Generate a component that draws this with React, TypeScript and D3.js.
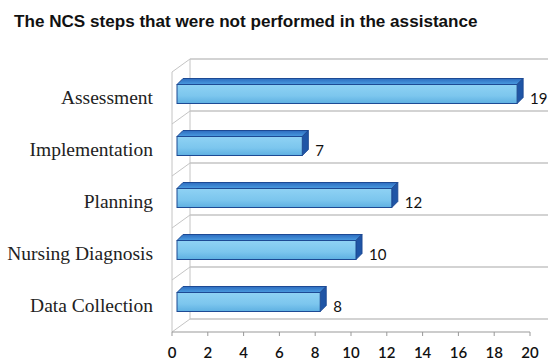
import React from "react";
import * as d3 from "d3";

const title = "The NCS steps that were not performed in the assistance";
const categories = ["Assessment", "Implementation", "Planning", "Nursing Diagnosis", "Data Collection"];
const values = [19, 7, 12, 10, 8];
const xTicks = [0, 2, 4, 6, 8, 10, 12, 14, 16, 18, 20];

const W = 550, H = 362;
const front = { left: 172, right: 530, top: 72, bottom: 332 };
const depth = { dx: 18, dy: -13 };
const barDepth = { dx: 6, dy: -6 };

export default function App() {
  const x = d3.scaleLinear().domain([0, 20]).range([front.left, front.right]);
  const y = d3.scaleBand<string>().domain(categories).range([front.top, front.bottom]);
  const bw = y.bandwidth();
  const gridYs = d3.range(categories.length + 1).map((i) => front.top + i * bw);
  const barH = 19;
  const barOff = 5;

  return (
    <svg width={W} height={H} style={{ position: "absolute", left: 0, top: 0, background: "#fff" }}>
      <defs>
        <linearGradient id="frontG" x1="0" y1="0" x2="0" y2="1">
          <stop offset="0" stopColor="#8fd2f4" />
          <stop offset="0.6" stopColor="#7cc6ee" />
          <stop offset="1" stopColor="#5eb0e2" />
        </linearGradient>
        <linearGradient id="topG" x1="0" y1="0" x2="0" y2="1">
          <stop offset="0" stopColor="#2d6cc0" />
          <stop offset="1" stopColor="#4a9ce0" />
        </linearGradient>
      </defs>
      <rect width={W} height={H} fill="#fff" />
      <text x={14} y={27} fontFamily="Liberation Sans, Arial, sans-serif" fontWeight="bold" fontSize={17.1} fill="#111">
        {title}
      </text>

      {/* back wall gridlines */}
      {gridYs.map((gy, i) => (
        <g key={"g" + i}>
          <line x1={front.left + depth.dx} x2={front.right + depth.dx} y1={gy + depth.dy} y2={gy + depth.dy} stroke="#a8a8a8" strokeWidth={1.2} />
          <line x1={front.left} y1={gy} x2={front.left + depth.dx} y2={gy + depth.dy} stroke="#c4c4c4" strokeWidth={1} />
        </g>
      ))}
      {/* left wall verticals */}
      <line x1={front.left} x2={front.left} y1={front.top} y2={front.bottom} stroke="#c4c4c4" strokeWidth={1} />
      <line x1={front.left + depth.dx} x2={front.left + depth.dx} y1={front.top + depth.dy} y2={front.bottom + depth.dy} stroke="#c4c4c4" strokeWidth={1} />

      {/* front axis */}
      <line x1={front.left} x2={front.right} y1={front.bottom} y2={front.bottom} stroke="#999" strokeWidth={1.2} />
      {xTicks.map((t) => (
        <g key={"t" + t}>
          <line x1={x(t)} x2={x(t)} y1={front.bottom} y2={front.bottom + 4} stroke="#999" />
          <text x={x(t)} y={358} textAnchor="middle" fontFamily="Lato, Open Sans, sans-serif" fontSize={15} fontWeight={600} fill="#111">
            {t}
          </text>
        </g>
      ))}

      {/* bars */}
      {categories.map((c, i) => {
        const v = values[i];
        const cy = (y(c) as number) + bw / 2 - 4;
        const y0 = cy - barH / 2;
        const x0 = x(0) + barOff;
        const x1 = x(v) + barOff;
        const { dx, dy } = barDepth;
        const topPts = [[x0, y0], [x0 + dx, y0 + dy], [x1 + dx, y0 + dy], [x1, y0]];
        const endPts = [[x1, y0], [x1 + dx, y0 + dy], [x1 + dx, y0 + barH + dy], [x1, y0 + barH]];
        const p = (pts: number[][]) => pts.map((q) => q.join(",")).join(" ");
        return (
          <g key={c}>
            <polygon points={p(topPts)} fill="url(#topG)" stroke="#1d4a94" strokeWidth={1} strokeLinejoin="round" />
            <polygon points={p(endPts)} fill="#1f55a6" stroke="#1d4a94" strokeWidth={1} strokeLinejoin="round" />
            <rect x={x0} y={y0} width={x1 - x0} height={barH} fill="url(#frontG)" stroke="#1d4a94" strokeWidth={1} />
            <text x={x1 + dx + 7} y={cy + 10} fontFamily="Lato, Open Sans, sans-serif" fontSize={15} fill="#111">
              {v}
            </text>
            <text x={153} y={(y(c) as number) + bw / 2 + 6} textAnchor="end" fontFamily="Liberation Serif, Times New Roman, serif" fontSize={19.5} fill="#222">
              {c}
            </text>
          </g>
        );
      })}
    </svg>
  );
}
